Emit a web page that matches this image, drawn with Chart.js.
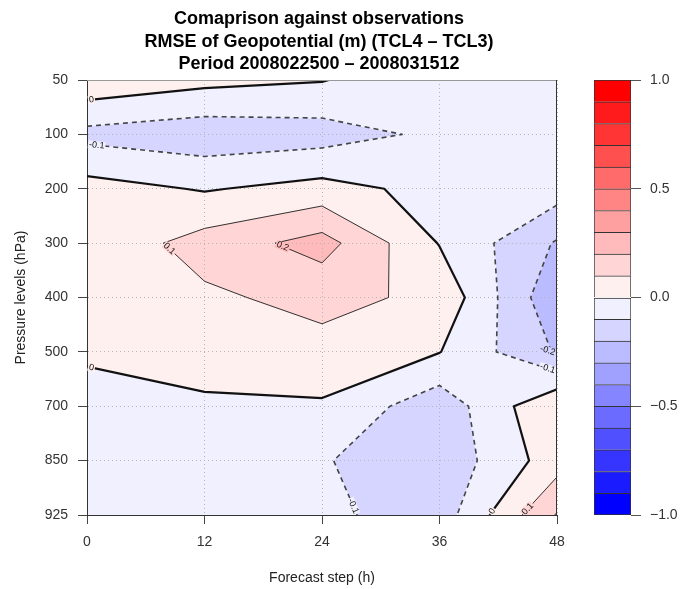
<!DOCTYPE html>
<html>
<head>
<meta charset="utf-8">
<title>RMSE of Geopotential (TCL4 - TCL3)</title>
<script src="https://cdn.jsdelivr.net/npm/chart.js@4.4.1/dist/chart.umd.min.js"></script>
<style>
  html, body { margin: 0; padding: 0; background: #fff; }
  #wrap { position: relative; width: 683px; height: 589px; }
  #main { position: absolute; left: 0; top: 0; }
  #bar { position: absolute; left: 560px; top: 0; }
</style>
</head>
<body>
<div id="wrap">
  <canvas id="main" width="683" height="589"></canvas>
  <canvas id="bar" width="123" height="589"></canvas>
</div>
<script>
var steps = [0, 12, 24, 36, 48];
var levels = [50, 100, 200, 300, 400, 500, 700, 850, 925];

// RMSE difference TCL4 - TCL3 (m), one value per forecast step
var hPa50  = [0.077, 0.029, 0.005, -0.080, -0.060];
var hPa100 = [-0.131, -0.163, -0.145, -0.079, -0.050];
var hPa200 = [0.040, -0.008, 0.035, -0.031, -0.053];
var hPa300 = [0.026, 0.140, 0.240, -0.005, -0.210];
var hPa400 = [0.040, 0.083, 0.130, 0.077, -0.280];
var hPa500 = [0.020, 0.050, 0.068, 0.003, -0.210];
var hPa700 = [-0.054, -0.018, -0.012, -0.164, 0.095];
var hPa850 = [-0.050, -0.060, -0.092, -0.173, 0.054];
var hPa925 = [-0.040, -0.060, -0.077, -0.154, 0.207];
var field = [hPa50, hPa100, hPa200, hPa300, hPa400, hPa500, hPa700, hPa850, hPa925];

// colour scale breaks
var breaks = [-1.0, -0.9, -0.8, -0.7, -0.6, -0.5, -0.4, -0.3, -0.2, -0.1, 0.0,
              0.1, 0.2, 0.3, 0.4, 0.5, 0.6, 0.7, 0.8, 0.9, 1.0];

var titleLines = [
  'Comaprison against observations',
  'RMSE of Geopotential (m) (TCL4 \u2013 TCL3)',
  'Period 2008022500 \u2013 2008031512'
];

var FONT = '"Liberation Sans", Arial, Helvetica, sans-serif';
Chart.defaults.font.family = FONT;

// band k covers breaks[k]..breaks[k+1]; white in the middle, blue/red at the ends
function bandColour(k) {
  var g;
  if (k >= 10) {
    g = Math.round(240 * (1 - (k - 10) / 9));
    return 'rgb(255,' + g + ',' + g + ')';
  }
  g = Math.round(240 * (k / 9));
  return 'rgb(' + g + ',' + g + ',255)';
}

function crossing(a, b, t) {
  var f = (t - a.v) / (b.v - a.v);
  return { x: a.x + f * (b.x - a.x), y: a.y + f * (b.y - a.y) };
}

function cellCorners(i, j) {
  return [
    { x: steps[j], y: i, v: field[i][j] },
    { x: steps[j + 1], y: i, v: field[i][j + 1] },
    { x: steps[j + 1], y: i + 1, v: field[i + 1][j + 1] },
    { x: steps[j], y: i + 1, v: field[i + 1][j] }
  ];
}

function edgeKey(i, j, k) {
  if (k === 0) return 'h' + i + '_' + j;
  if (k === 1) return 'v' + i + '_' + (j + 1);
  if (k === 2) return 'h' + (i + 1) + '_' + j;
  return 'v' + i + '_' + j;
}

// part of a cell at or above t, as one or two polygons
function highPolygons(c, t) {
  var hi = c.map(function (p) { return p.v >= t; });
  var n = hi.filter(Boolean).length;
  if (n === 0) return [];
  var centre = (c[0].v + c[1].v + c[2].v + c[3].v) / 4;
  var k;
  if (n === 2 && hi[0] === hi[2] && centre < t) {
    var out = [];
    for (k = 0; k < 4; k++) {
      if (!hi[k]) continue;
      out.push([crossing(c[(k + 3) % 4], c[k], t), c[k], crossing(c[k], c[(k + 1) % 4], t)]);
    }
    return out;
  }
  var poly = [];
  for (k = 0; k < 4; k++) {
    if (hi[k]) poly.push(c[k]);
    if (hi[k] !== hi[(k + 1) % 4]) poly.push(crossing(c[k], c[(k + 1) % 4], t));
  }
  return [poly];
}

function cellSegments(c, t, i, j) {
  var hi = c.map(function (p) { return p.v >= t; });
  var n = hi.filter(Boolean).length;
  if (n === 0 || n === 4) return [];
  var pts = {}, k;
  for (k = 0; k < 4; k++) {
    if (hi[k] !== hi[(k + 1) % 4]) {
      var p = crossing(c[k], c[(k + 1) % 4], t);
      p.key = edgeKey(i, j, k);
      pts[k] = p;
    }
  }
  if (n === 2 && hi[0] === hi[2]) {
    var centre = (c[0].v + c[1].v + c[2].v + c[3].v) / 4;
    var segs = [];
    for (k = 0; k < 4; k++) {
      if (hi[k] === (centre < t)) segs.push([pts[(k + 3) % 4], pts[k]]);
    }
    return segs;
  }
  var ks = Object.keys(pts);
  return [[pts[ks[0]], pts[ks[1]]]];
}

// join cell segments into polylines through shared edge crossings
function chain(segs) {
  var byKey = {};
  segs.forEach(function (s, n) {
    s.forEach(function (p) { (byKey[p.key] = byKey[p.key] || []).push(n); });
  });
  var used = segs.map(function () { return false; });
  function walk(idx, key) {
    var s = segs[idx];
    var line = [s[0].key === key ? s[0] : s[1]];
    while (idx !== -1 && !used[idx]) {
      used[idx] = true;
      s = segs[idx];
      var other = s[0].key === key ? s[1] : s[0];
      line.push(other);
      key = other.key;
      var next = (byKey[key] || []).filter(function (m) { return !used[m]; });
      idx = next.length ? next[0] : -1;
    }
    return line;
  }
  var lines = [];
  Object.keys(byKey).forEach(function (k) {
    var list = byKey[k];
    if (list.length === 1 && !used[list[0]]) lines.push({ pts: walk(list[0], k), closed: false });
  });
  segs.forEach(function (s, n) {
    if (!used[n]) lines.push({ pts: walk(n, s[0].key), closed: true });
  });
  return lines;
}

function levelText(t) {
  return Math.abs(t) < 1e-9 ? '0' : t.toFixed(1);
}

var contourPlugin = {
  id: 'contours',
  beforeDraw: function (chart) {
    var ctx = chart.ctx, xs = chart.scales.x, ys = chart.scales.y, a = chart.chartArea;
    ctx.save();
    ctx.beginPath();
    ctx.rect(a.left, a.top, a.right - a.left, a.bottom - a.top);
    ctx.clip();
    ctx.lineJoin = 'round';
    ctx.lineWidth = 1;
    for (var b = 0; b < breaks.length - 1; b++) {
      var t = breaks[b];
      ctx.fillStyle = bandColour(b);
      ctx.strokeStyle = bandColour(b);
      for (var i = 0; i < levels.length - 1; i++) {
        for (var j = 0; j < steps.length - 1; j++) {
          highPolygons(cellCorners(i, j), b === 0 ? -Infinity : t).forEach(function (poly) {
            ctx.beginPath();
            poly.forEach(function (p, n) {
              var X = xs.getPixelForValue(p.x), Y = ys.getPixelForValue(p.y);
              if (n) ctx.lineTo(X, Y); else ctx.moveTo(X, Y);
            });
            ctx.closePath();
            ctx.fill();
            ctx.stroke();
          });
        }
      }
    }
    ctx.restore();
  },
  afterDatasetsDraw: function (chart) {
    var ctx = chart.ctx, xs = chart.scales.x, ys = chart.scales.y, a = chart.chartArea;
    ctx.save();
    ctx.beginPath();
    ctx.rect(a.left, a.top, a.right - a.left, a.bottom - a.top);
    ctx.clip();
    var labels = [];
    for (var b = 1; b < breaks.length - 1; b++) {
      var t = breaks[b];
      var segs = [];
      for (var i = 0; i < levels.length - 1; i++) {
        for (var j = 0; j < steps.length - 1; j++) {
          segs = segs.concat(cellSegments(cellCorners(i, j), t, i, j));
        }
      }
      if (!segs.length) continue;
      var zero = Math.abs(t) < 1e-9;
      ctx.lineJoin = 'round';
      ctx.strokeStyle = zero ? '#111' : (t < 0 ? '#444' : '#333');
      ctx.lineWidth = zero ? 2.2 : (t < 0 ? 1.6 : 1);
      ctx.setLineDash(t < 0 && !zero ? [5, 4] : []);
      chain(segs).forEach(function (line) {
        var px = line.pts.map(function (p) {
          return { x: xs.getPixelForValue(p.x), y: ys.getPixelForValue(p.y) };
        });
        ctx.beginPath();
        px.forEach(function (p, n) { if (n) ctx.lineTo(p.x, p.y); else ctx.moveTo(p.x, p.y); });
        ctx.stroke();
        var len = 0;
        for (var n = 1; n < px.length; n++) len += Math.hypot(px[n].x - px[n - 1].x, px[n].y - px[n - 1].y);
        if (len < 30) return;
        var m, nb;
        if (line.closed) {
          m = 0;
          for (n = 1; n < px.length - 1; n++) if (px[n].x < px[m].x) m = n;
          nb = m + 1;
        } else {
          var last = px.length - 1;
          var useLast = px[last].y > px[0].y + 1 || (Math.abs(px[last].y - px[0].y) <= 1 && px[last].x < px[0].x);
          m = useLast ? last : 0;
          nb = useLast ? last - 1 : 1;
        }
        labels.push({ at: px[m], to: px[nb], text: levelText(t), band: b });
      });
    }
    ctx.setLineDash([]);
    ctx.font = '9px ' + FONT;
    labels.forEach(function (l) {
      var dx = l.to.x - l.at.x, dy = l.to.y - l.at.y, d = Math.hypot(dx, dy) || 1;
      var w = ctx.measureText(l.text).width;
      var cx = l.at.x + dx / d * (w / 2 + 2), cy = l.at.y + dy / d * (w / 2 + 2);
      var ang = Math.atan2(dy, dx);
      if (ang > Math.PI / 2) ang -= Math.PI;
      if (ang < -Math.PI / 2) ang += Math.PI;
      ctx.save();
      ctx.translate(cx, cy);
      ctx.rotate(ang);
      ctx.fillStyle = bandColour(l.band);
      ctx.fillRect(-w / 2 - 1, -4, w + 2, 8);
      ctx.fillStyle = '#111';
      ctx.textAlign = 'center';
      ctx.textBaseline = 'middle';
      ctx.fillText(l.text, 0, 0);
      ctx.restore();
    });
    ctx.restore();

    // frame round the plot
    ctx.save();
    ctx.lineWidth = 1;
    ctx.strokeStyle = '#999';
    ctx.beginPath();
    ctx.moveTo(a.left, a.top + 0.5);
    ctx.lineTo(a.right, a.top + 0.5);
    ctx.stroke();
    ctx.strokeStyle = '#333';
    ctx.beginPath();
    ctx.moveTo(a.right - 0.5, a.top);
    ctx.lineTo(a.right - 0.5, a.bottom);
    ctx.stroke();
    ctx.restore();
  },
  afterDraw: function (chart) {
    var ctx = chart.ctx, a = chart.chartArea;
    var cx = (a.left + a.right) / 2 - 3;
    ctx.save();
    ctx.fillStyle = '#000';
    ctx.font = 'bold 18px ' + FONT;
    ctx.textAlign = 'center';
    ctx.textBaseline = 'middle';
    ctx.fillText(titleLines[0], cx, 19);
    ctx.fillText(titleLines[1], cx, 42);
    ctx.fillText(titleLines[2], cx, 64);
    ctx.restore();
  }
};

new Chart(document.getElementById('main'), {
  type: 'scatter',
  data: { datasets: [] },
  options: {
    responsive: false,
    animation: false,
    layout: { padding: { left: 8, right: 126, top: 80, bottom: 2 } },
    plugins: { legend: { display: false }, tooltip: { enabled: false } },
    scales: {
      x: {
        type: 'linear',
        min: 0,
        max: 48,
        ticks: { stepSize: 12, padding: 10, color: '#333', font: { size: 14 } },
        grid: { color: '#b5b5b5', tickColor: '#444', tickLength: 9 },
        border: { color: '#333', dash: [1, 3] },
        title: { display: true, text: 'Forecast step (h)', color: '#222', padding: 0, font: { size: 14 } },
        afterFit: function (s) { s.height = 72; }
      },
      y: {
        type: 'linear',
        reverse: true,
        min: 0,
        max: levels.length - 1,
        ticks: {
          stepSize: 1,
          padding: 10,
          color: '#333',
          font: { size: 14 },
          callback: function (v) { return levels[v]; }
        },
        grid: { color: '#b5b5b5', tickColor: '#444', tickLength: 9 },
        border: { color: '#333', dash: [1, 3] },
        title: { display: true, text: 'Pressure levels (hPa)', color: '#222', padding: { top: 5, bottom: 0 }, font: { size: 14 } },
        afterFit: function (s) { s.width = 79; }
      }
    }
  },
  plugins: [contourPlugin]
});

// colour key
new Chart(document.getElementById('bar'), {
  type: 'bar',
  data: {
    labels: [''],
    datasets: breaks.slice(0, -1).map(function (lo, k) {
      return {
        data: [[lo, breaks[k + 1]]],
        backgroundColor: bandColour(k),
        borderColor: '#333',
        borderWidth: { top: 1, left: 1, right: 1, bottom: k === 0 ? 1 : 0 },
        borderSkipped: false,
        grouped: false,
        barPercentage: 1,
        categoryPercentage: 1
      };
    })
  },
  options: {
    responsive: false,
    animation: false,
    layout: { padding: { left: 34, right: 0, top: 80, bottom: 74 } },
    plugins: { legend: { display: false }, tooltip: { enabled: false } },
    scales: {
      x: { display: false },
      y: {
        position: 'right',
        min: -1,
        max: 1,
        ticks: {
          stepSize: 0.5,
          padding: 9,
          color: '#333',
          font: { size: 14 },
          callback: function (v) { return (v < 0 ? '\u2212' : '') + Math.abs(v).toFixed(1); }
        },
        grid: { drawOnChartArea: false, tickColor: '#555', tickLength: 10 },
        border: { display: false },
        afterFit: function (s) { s.width = 52; }
      }
    }
  }
});
</script>
</body>
</html>
